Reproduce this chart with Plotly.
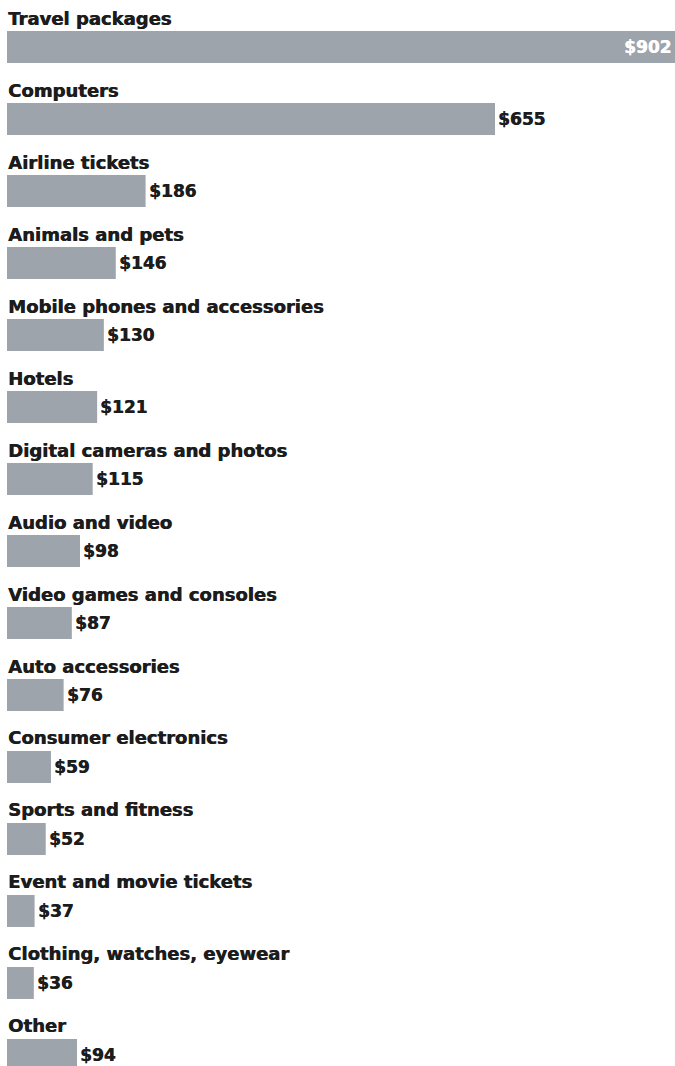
import plotly.graph_objects as go

categories = [
    "Travel packages",
    "Computers",
    "Airline tickets",
    "Animals and pets",
    "Mobile phones and accessories",
    "Hotels",
    "Digital cameras and photos",
    "Audio and video",
    "Video games and consoles",
    "Auto accessories",
    "Consumer electronics",
    "Sports and fitness",
    "Event and movie tickets",
    "Clothing, watches, eyewear",
    "Other",
]
values = [902, 655, 186, 146, 130, 121, 115, 98, 87, 76, 59, 52, 37, 36, 94]
value_labels = ["$" + str(v) for v in values]

W, H = 675, 1066
X_MAX = 896.6
BAR_COLOR = "#9da4ac"
TEXT_COLOR = "#1c1c1c"
FONT = "DejaVu Sans"
CAT_SIZE = 18
VAL_SIZE = 17


def heavy(color):
    # a thin horizontal text-shadow thickens the bold strokes a little
    return f"0.6px 0 0 {color}"


fig = go.Figure(
    go.Bar(
        x=values,
        y=categories,
        orientation="h",
        marker=dict(color=BAR_COLOR, line=dict(width=0)),
        width=0.444,
        hoverinfo="skip",
    )
)

annotations = []
for i, (cat, val, lab) in enumerate(zip(categories, values, value_labels)):
    # category name above the bar
    annotations.append(dict(
        x=0, y=cat, xref="x", yref="y",
        text=cat, showarrow=False,
        xanchor="left", yanchor="middle", yshift=29, xshift=-1,
        font=dict(family=FONT, size=CAT_SIZE, color=TEXT_COLOR, weight="bold",
                  shadow=heavy(TEXT_COLOR)),
    ))
    # value label: inside the longest bar (which runs off the edge), after the others
    inside = val > X_MAX * 0.9
    vcol = "white" if inside else TEXT_COLOR
    annotations.append(dict(
        x=min(val, X_MAX), y=cat, xref="x", yref="y",
        text=lab, showarrow=False,
        xanchor="right" if inside else "left", yanchor="middle",
        xshift=-2 if inside else 1,
        font=dict(family=FONT, size=VAL_SIZE, color=vcol, weight="bold",
                  shadow=heavy(vcol)),
    ))

fig.update_layout(
    width=W, height=H,
    margin=dict(l=7, r=0, t=0, b=0),
    paper_bgcolor="white", plot_bgcolor="white",
    showlegend=False,
    xaxis=dict(range=[0, X_MAX], visible=False, fixedrange=True),
    yaxis=dict(range=[14.153, -0.653], visible=False, type="category",
               categoryorder="array", categoryarray=categories, fixedrange=True),
    annotations=annotations,
)

fig.write_html("out.html", config={"displayModeBar": False})
